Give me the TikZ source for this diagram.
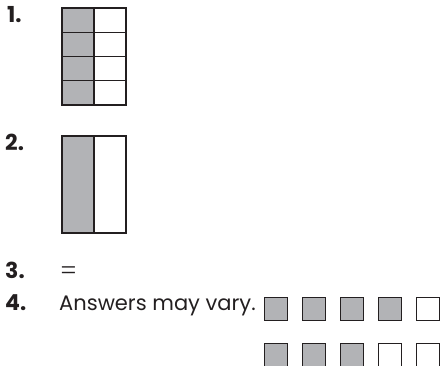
\documentclass[tikz,border=0pt]{standalone}
\usepackage{fontspec}
\setmainfont{Poppins}
\newfontfamily\eqfont{Liberation Serif}
\definecolor{cellgray}{HTML}{B2B3B6}
\definecolor{edge}{HTML}{231F20}
\begin{document}
\begin{tikzpicture}[x=1pt,y=-1pt,
  outline/.style={draw=edge,line width=1.3pt},
  numlabel/.style={anchor=base west,inner sep=0pt,text=edge,font=\bfseries\fontsize{22}{22}\selectfont},
  bodytext/.style={anchor=base west,inner sep=0pt,text=edge,font=\fontsize{21}{21}\selectfont},
  sq/.style={outline,minimum width=23pt,minimum height=23pt,inner sep=0pt,anchor=north west}]
\useasboundingbox (0,0) rectangle (441,366);
% labels
\node[numlabel] (n1) at (7,23) {1.};
\node[numlabel] (n2) at (5,151) {2.};
\node[numlabel] (n3) at (5,278) {3.};
\node[numlabel] (n4) at (5,310) {4.};
% grid 1
\fill[cellgray] (62,8) rectangle (94,105);
\draw[outline] (62,8) rectangle (126,105);
\draw[outline] (94,8) -- (94,105);
\foreach \yy in {32.25,56.5,80.75} \draw[outline] (62,\yy) -- (126,\yy);
% grid 2
\fill[cellgray] (62,136) rectangle (94,233);
\draw[outline] (62,136) rectangle (126,233);
\draw[outline] (94,136) -- (94,233);
% item 3
\node[anchor=base west,inner sep=0pt,text=edge,font=\eqfont\fontsize{28}{28}\selectfont] (eq) at (60.5,279) {=};
% item 4
\node[bodytext] (ans) at (59,310) {Answers may vary.};
\foreach \i/\c in {0/cellgray,1/cellgray,2/cellgray,3/cellgray,4/white}
  \node[sq,fill=\c] (a\i) at (263.5+38.1*\i,297) {};
\foreach \i/\c in {0/cellgray,1/cellgray,2/cellgray,3/white,4/white}
  \node[sq,fill=\c] (b\i) at (263.5+38.1*\i,342.5) {};
\end{tikzpicture}
\end{document}
